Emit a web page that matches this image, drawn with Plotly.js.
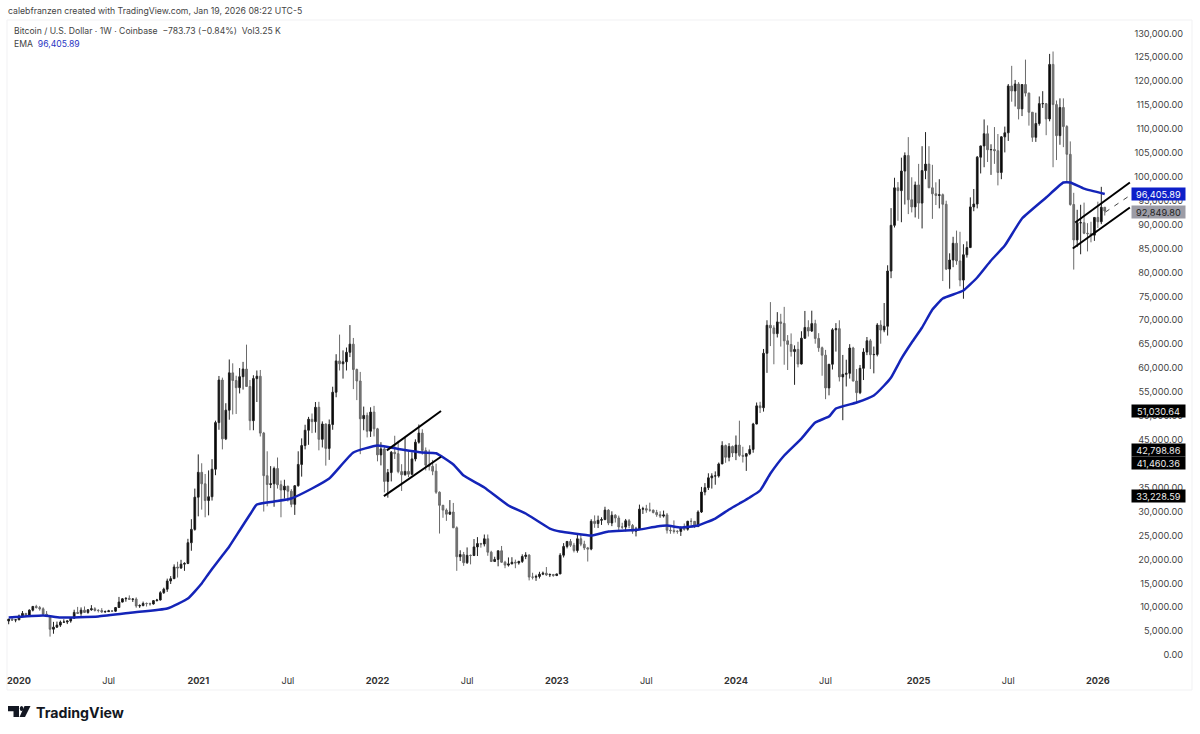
<!DOCTYPE html>
<html><head><meta charset="utf-8">
<script src="https://cdn.plot.ly/plotly-3.0.1.min.js"></script>
<style>html,body{margin:0;padding:0;background:#fff;overflow:hidden}#chart{width:1200px;height:734px}</style>
</head><body><div id="chart"></div>
<script>
// weekly bars: [open, high, low, close]; the first bar is the week of 2019-12-16
const bars2019=[[7110,7520,6430,7510],[7510,7700,7110,7320],[7320,7520,6850,7350]];
const bars2020=[[7350,8460,7340,8180],[8180,9190,8100,8700],[8700,8790,8230,8330],[8330,9550,8300,9380],[9380,10170,9120,10160],[10160,10500,9720,9920],[9920,10260,9280,9660],[9660,9970,8450,8530],[8530,9190,8000,8040],[8040,8180,3850,5390],[5390,6930,4450,5830],[5830,6990,5670,6250],[6250,7200,5870,6860],[6860,7470,6780,6900],[6900,7200,6470,7120],[7120,7770,6750,7690],[7690,9470,7640,8910],[8910,10060,8600,8720],[8720,9950,8200,9380],[9380,10150,8810,8900],[8900,9610,8640,9450],[9450,10430,9260,9670],[9670,10000,9100,9330],[9330,9590,8900,9300],[9300,9800,8830,9000],[9000,9300,8900,9070],[9070,9450,9050,9230],[9230,9300,9000,9160],[9160,9990,9040,9930],[9930,12150,9900,11070],[11070,11900,11000,11750],[11750,12060,11150,11850],[11850,12470,11500,11650],[11650,11800,11100,11700],[11700,12050,9880,10250],[10250,10600,9850,10330],[10330,11170,10200,10780],[10780,10980,10140,10750],[10750,10950,10320,10670],[10670,11500,10540,11370],[11370,11740,11200,11500],[11500,13350,11400,13030],[13030,14080,12780,13760],[13760,15970,13200,15480],[15480,16500,14850,15960],[15960,18950,15960,18400],[18400,19500,16200,18200],[18200,19900,18000,19000],[19000,19400,17600,19150],[19150,24300,19000,23480],[23480,28400,21800,26270],[26270,34800,26000,33000]];
const bars2021=[[33000,41950,29000,38200],[38200,40100,30400,35800],[35800,37850,28800,32300],[32300,38600,29200,33100],[33100,40950,32300,38850],[38850,49000,37600,48600],[48600,58350,47100,57500],[57500,58000,43000,45200],[45200,52650,44950,51200],[51200,61800,49200,59000],[59000,61000,50300,57400],[57400,58400,50400,55900],[55900,60000,54700,58200],[58200,61300,55500,59800],[59800,64900,59000,56150],[56150,57500,47000,49000],[49000,58500,47000,57800],[57800,59500,52900,58300],[58300,59600,45700,46400],[46400,46650,30000,37500],[37500,42600,31100,35650],[35650,39500,34900,35800],[35800,39400,31000,39000],[39000,41300,34800,35600],[35600,36500,28800,34500],[34500,36650,32700,35300],[35300,35400,32100,34250],[34250,34700,30900,31500],[31500,34800,29300,35400],[35400,42600,35200,39850],[39850,45300,37300,43800],[43800,48150,43000,47000],[47000,49800,43950,49300],[49300,50500,46400,48800],[48800,52900,46500,51800],[51800,52950,42800,45100],[45100,48850,43400,48300],[48300,48400,39600,43200],[43200,49250,40800,48200],[48200,56100,47100,54950],[54950,62900,53900,61500],[61500,67000,59500,60900],[60900,63700,57800,61300],[61300,64300,59500,63300],[63300,68990,62300,65000],[65000,66300,55600,59700],[59700,59900,53300,57300],[57300,59200,42000,49400],[49400,51950,47000,50100],[50100,50700,45500,46800],[46800,51800,45600,50800],[50800,52100,45700,47300]];
const bars2022=[[47300,47500,40500,41850],[41850,44500,39650,43100],[43100,43500,34000,36300],[36300,38900,32900,38150],[38150,42650,36300,42400],[42400,45850,41000,42100],[42100,44800,38000,38350],[38350,39900,34300,37700],[37700,45400,37500,38400],[38400,42550,37200,37800],[37800,42400,37600,41000],[41000,45100,40500,44500],[44500,48200,44200,46400],[46400,47200,41900,42750],[42750,43400,38600,39700],[39700,42950,38600,39450],[39450,40800,37600,38450],[38450,40000,33700,34050],[34050,34200,25400,31300],[31300,31400,28700,30300],[30300,30650,28050,29450],[29450,32400,29300,29900],[29900,31800,26600,26600],[26600,26900,17600,20550],[20550,21900,19650,21000],[21000,21550,18650,19300],[19300,22500,19050,20850],[20850,21000,18950,20800],[20800,24250,20700,22600],[22600,24650,20700,23300],[23300,23450,22450,23200],[23200,25200,22700,24300],[24300,25200,20750,21500],[21500,21800,19550,19550],[19550,20550,19500,19990],[19990,21800,18550,21800],[21800,22800,19300,19400],[19400,19700,18150,18800],[18800,20400,18500,19050],[19050,20450,19000,19400],[19400,19950,18150,19250],[19250,19700,18900,19570],[19570,21050,19250,20600],[20600,21500,20050,20900],[20900,21050,15600,16300],[16300,17200,15800,16280],[16280,16800,15500,16430],[16430,17400,16000,16900],[16900,17450,16700,17100],[17100,18400,16550,16750],[16750,17050,16300,16840],[16840,16950,16350,16620]];
const bars2023=[[16620,17000,16500,16950],[16950,21300,17100,20870],[20870,23400,20400,22700],[22700,23800,22300,23750],[23750,24250,22600,22950],[22950,23450,21450,21850],[21850,25250,21400,24300],[24300,25100,22750,23180],[23180,23900,21950,22400],[22400,22600,19550,22150],[22150,28400,21900,27970],[27970,29200,26600,27490],[27490,29150,26550,28170],[28170,28800,27200,28320],[28320,31000,28200,30300],[30300,30500,27150,27600],[27600,30050,26950,29230],[29230,29450,27700,28650],[28650,29150,25800,26780],[26780,27650,26350,26750],[26750,28450,25850,28070],[28070,28450,26500,27100],[27100,27400,25350,25900],[25900,26800,24800,26340],[26340,31450,26250,30500],[30500,31000,29500,30600],[30600,31400,29750,30300],[30300,31850,29950,30300],[30300,30400,29600,29800],[29800,30350,28900,29350],[29350,30050,28650,29050],[29050,30200,28750,29300],[29300,29700,25400,26100],[26100,26850,25350,26000],[26000,28150,25400,25850],[25850,26100,25350,25850],[25850,26900,24900,26550],[26550,27500,26000,26300],[26300,28050,26000,27970],[27970,28600,27150,27950],[27950,28000,26550,26850],[26850,30250,26800,29900],[29900,35150,29700,34080],[34080,35950,33400,35000],[35000,38000,34500,37050],[37050,38000,34800,37450],[37450,38400,35600,37450],[37450,40250,37100,39950],[39950,44700,39950,43800],[43800,44000,40200,41350],[41350,44300,40500,43600],[43600,43800,41400,42250]];
const bars2024=[[42250,45900,40750,43900],[43900,49000,41450,41750],[41750,43550,40250,41550],[41550,42250,38500,42100],[42100,43850,41800,43000],[43000,48550,42300,48300],[48300,52800,48250,52100],[52100,52950,50600,51700],[51700,64000,50900,63100],[63100,70000,59000,68950],[68950,73800,64600,68400],[68400,68950,60800,67200],[67200,71700,66400,69650],[69650,71350,64500,69350],[69350,72800,60700,65700],[65700,66900,59600,64950],[64950,67250,62400,63450],[63450,64750,56500,63900],[63900,65500,60150,60850],[60850,67700,60750,66250],[66250,71950,66100,68500],[68500,70000,66600,67750],[67750,72000,67550,69300],[69300,70100,65100,66200],[66200,67300,63400,64250],[64250,64500,58400,62700],[62700,63800,53500,55850],[55850,60800,54300,60800],[60800,68350,59700,68000],[68000,69400,63450,68250],[68250,70000,57200,58150],[58150,62750,49100,58700],[58700,61750,56150,58900],[58900,65000,57800,64200],[64200,64450,57200,57300],[57300,59800,52550,54850],[54850,60650,54550,59950],[59950,64150,57500,63350],[63350,66500,62700,65700],[65700,66100,59800,62800],[62800,64500,58900,62850],[62850,69400,62450,69000],[69000,70000,65100,67950],[67950,73600,67500,68750],[68750,81500,66800,80300],[80300,93450,78800,89850],[89850,99800,89400,97700],[97700,98900,90800,97100],[97100,104000,90500,101200],[101200,105100,94200,104450],[104450,108300,92200,95200],[95200,99900,92550,93700],[93700,99000,91500,98300]];
const bars2025=[[98300,102700,91200,94500],[94500,106400,89200,101300],[101300,109350,99500,102650],[102650,106400,97700,97700],[97700,102500,91200,96450],[96450,98850,94100,96100],[96100,99500,93400,96250],[96250,96500,78200,94250],[94250,95000,80500,80700],[80700,84000,76600,82600],[82600,87450,81100,86100],[86100,88750,81600,82400],[82400,88500,77100,78400],[78400,85900,74500,83700],[83700,86500,83100,85200],[85200,95700,85100,93700],[93700,97450,92800,94300],[94300,104350,93400,104100],[104100,106500,100700,106450],[106450,112000,102000,109000],[109000,110750,103100,105650],[105650,106800,100400,105700],[105700,110400,102700,105450],[105450,108950,98200,100900],[100900,108500,99500,108350],[108350,110500,105100,109200],[109200,119400,107500,119000],[119000,123200,115700,117950],[117950,120250,114700,119400],[119400,119800,112000,114200],[114200,119300,112700,119300],[119300,124500,116800,117500],[117500,117600,110700,113500],[113500,113500,107300,108250],[108250,113400,107300,111150],[111150,116800,110700,115300],[115300,117900,114400,115300],[115300,115400,108700,112100],[112100,125700,111600,123500],[123500,126200,102000,115100],[115100,115950,103500,108600],[108600,116400,106700,114500],[114500,116400,106200,110500],[110500,110800,98900,104700],[104700,107400,93950,94200],[94200,96650,80600,86800],[86800,93100,85300,90400],[90400,94150,83800,90400],[90400,94600,88000,88200],[88200,90300,84400,88100],[88100,90600,86300,87800],[87800,91500,86600,91500]];
const bars2026=[[91500,94800,89300,90600],[90600,97900,90100,93630],[93630,93640,91900,92849.8]];

const bars=[].concat(bars2019,bars2020,bars2021,bars2022,bars2023,bars2024,bars2025,bars2026);
const opens=bars.map(b=>b[0]), highs=bars.map(b=>b[1]), lows=bars.map(b=>b[2]), closes=bars.map(b=>b[3]);
const dates=bars.map((b,i)=>new Date(Date.UTC(2019,11,16+7*i)).toISOString().slice(0,10));

// 50-week EMA: bar number and value
const emaBars=[0,10,15,26,36,46,52,56,58,60,62,64,67,70,72,77,82,88,93,100,107,114,120,124,129,132,138,145,150,157,160,164,169,174,179,183,188,191,195,200,205,209,212,215,218,221,225,230,234,238,240,246,251,254,256,259,262,265,268,271,277,281,285,289,294,301,306,308,312,318];
const emaValues=[7840,8260,7840,8050,8890,9720,11810,14970,17000,18930,20800,22690,26030,29380,31470,32100,32730,34820,36910,42350,43810,42970,42350,42200,39850,37540,35030,31260,29590,26450,25830,25410,24990,25830,26030,26240,26870,27080,26660,27080,28540,30430,31680,32940,34400,37950,41720,45270,48620,49870,51550,52800,54270,56360,58030,62000,65350,68490,72250,74550,76220,78940,82500,85630,91280,95670,98800,98800,97530,96405.89];

const xTickDates=['2020-01-06','2020-07-06','2021-01-04','2021-07-05','2022-01-03','2022-07-04','2023-01-02','2023-07-03','2024-01-01','2024-07-01','2025-01-06','2025-07-07','2026-01-05'];
const xTickLabels=['<b>2020</b>','Jul','<b>2021</b>','Jul','<b>2022</b>','Jul','<b>2023</b>','Jul','<b>2024</b>','Jul','<b>2025</b>','Jul','<b>2026</b>'];

const channelDates2022=['2022-01-22','2022-05-12'];
const channelUpper2022=[42798.86,51030.64];
const channelDates2022b=['2022-01-16','2022-05-12'];
const channelLower2022=[33228.59,41460.36];
const channelDates2026a=['2025-11-20','2026-03-11'];
const channelUpper2026=[90440,98800];
const channelDates2026b=['2025-11-15','2026-03-11'];
const channelLower2026=[85000,93580];
const midDates2026=['2026-01-20','2026-03-11'];
const midValues2026=[92600,96090];

const tagPrices=[96405.89,92849.80,51030.64,42798.86,41460.36,33228.59];

// page geometry helpers
const L=7,R=1186,T=22,B=670;
const px=x=>(x-L)/(R-L), py=y=>(B-y)/(B-T);
const fmt=v=>v.toLocaleString('en-US',{minimumFractionDigits:2,maximumFractionDigits:2});

const font='Inter, "Noto Sans", sans-serif';
function line(xs,ys,w,c,d){return {type:'line',xref:'x',yref:'y',x0:xs[0],x1:xs[1],y0:ys[0],y1:ys[1],line:{color:c,width:w,dash:d||'solid'}};}
function path(pts){return 'M'+pts.map(p=>px(p[0])+','+py(p[1])).join('L')+'Z';}
function logo(pts){return {type:'path',xref:'paper',yref:'paper',path:path(pts),fillcolor:'#131722',line:{width:0}};}

const shapes=[
 {type:'rect',xref:'paper',yref:'paper',x0:0,x1:px(1192),y0:py(690),y1:py(20),line:{color:'#f1f1f3',width:1},layer:'below'},
 line(channelDates2022,channelUpper2022,2,'#000'),
 line(channelDates2022b,channelLower2022,2,'#000'),
 line(channelDates2026a,channelUpper2026,2,'#000'),
 line(channelDates2026b,channelLower2026,2,'#000'),
 line(midDates2026,midValues2026,1,'#444','5px,6px'),
 logo([[8,706],[19,706],[19,717],[13.5,717],[13.5,711.3],[8,711.3]]),
 logo([[24.5,706],[30.5,706],[25,717],[19.5,717]]),
 {type:'circle',xref:'paper',yref:'paper',x0:px(19.8),x1:px(23.4),y0:py(711),y1:py(706),fillcolor:'#131722',line:{width:0}}
];

function note(x,y,text,size,color,extra){return Object.assign({xref:'paper',yref:'paper',x:px(x),y:py(y),xanchor:'left',yanchor:'middle',showarrow:false,text:text,font:{family:font,size:size,color:color},borderpad:0},extra||{});}
function tag(v,bg,fg,shift){return {xref:'paper',yref:'y',x:px(1131),y:v,xanchor:'left',yanchor:'middle',showarrow:false,text:fmt(v),font:{family:font,size:9.2,color:fg},bgcolor:bg,width:53,height:12,borderpad:0,yshift:shift||0,align:'center'};}

const annotations=[
 note(7,11,'calebfranzen created with TradingView.com, Jan 19, 2026 08:22 UTC-5',8.7,'#444'),
 note(13,31,'Bitcoin / U.S. Dollar · 1W · Coinbase  −783.73 (−0.84%)  Vol3.25 K',8.65,'#444'),
 note(13,44,'EMA  <span style="color:#2a35c4">96,405.89</span>',8.65,'#444'),
 note(35,712,'<b>TradingView</b>',14.2,'#131722'),
 tag(tagPrices[0],'#0d1fc9','#fff'),
 tag(tagPrices[1],'#9c9ca6','#222',-1.5),
 tag(tagPrices[2],'#000','#eee'),
 tag(tagPrices[3],'#000','#eee'),
 tag(tagPrices[4],'#000','#eee',-6.5),
 tag(tagPrices[5],'#000','#eee')
];

Plotly.newPlot('chart',[
 {type:'candlestick',x:dates,open:opens,high:highs,low:lows,close:closes,hoverinfo:'skip',whiskerwidth:0,
  increasing:{line:{color:'#222',width:1},fillcolor:'#000'},
  decreasing:{line:{color:'#6a6a6a',width:1},fillcolor:'#777'}},
 {type:'scatter',mode:'lines',x:emaBars.map(i=>dates[i]),y:emaValues,hoverinfo:'skip',
  line:{color:'#1424b8',width:2.5,shape:'spline',smoothing:0.4}}
],{
 width:1200,height:734,autosize:false,showlegend:false,
 paper_bgcolor:'#fff',plot_bgcolor:'rgba(0,0,0,0)',
 margin:{l:L,r:1200-R,t:T,b:734-B,pad:0},
 xaxis:{type:'date',range:['2019-12-12 14:00','2026-07-03'],rangeslider:{visible:false},showgrid:false,zeroline:false,showline:false,ticks:'',
  tickmode:'array',tickvals:xTickDates,ticktext:xTickLabels,tickangle:0,ticklabelstandoff:4,
  tickfont:{family:font,size:9.2,color:'#333'}},
 yaxis:{side:'right',range:[-3135,132370],showgrid:false,zeroline:false,showline:false,ticks:'',
  tick0:0,dtick:5000,tickformat:',.2f',ticklabelposition:'inside',
  tickfont:{family:font,size:9.2,color:'#444'}},
 shapes:shapes,annotations:annotations
},{displayModeBar:false,staticPlot:true});
</script></body></html>
